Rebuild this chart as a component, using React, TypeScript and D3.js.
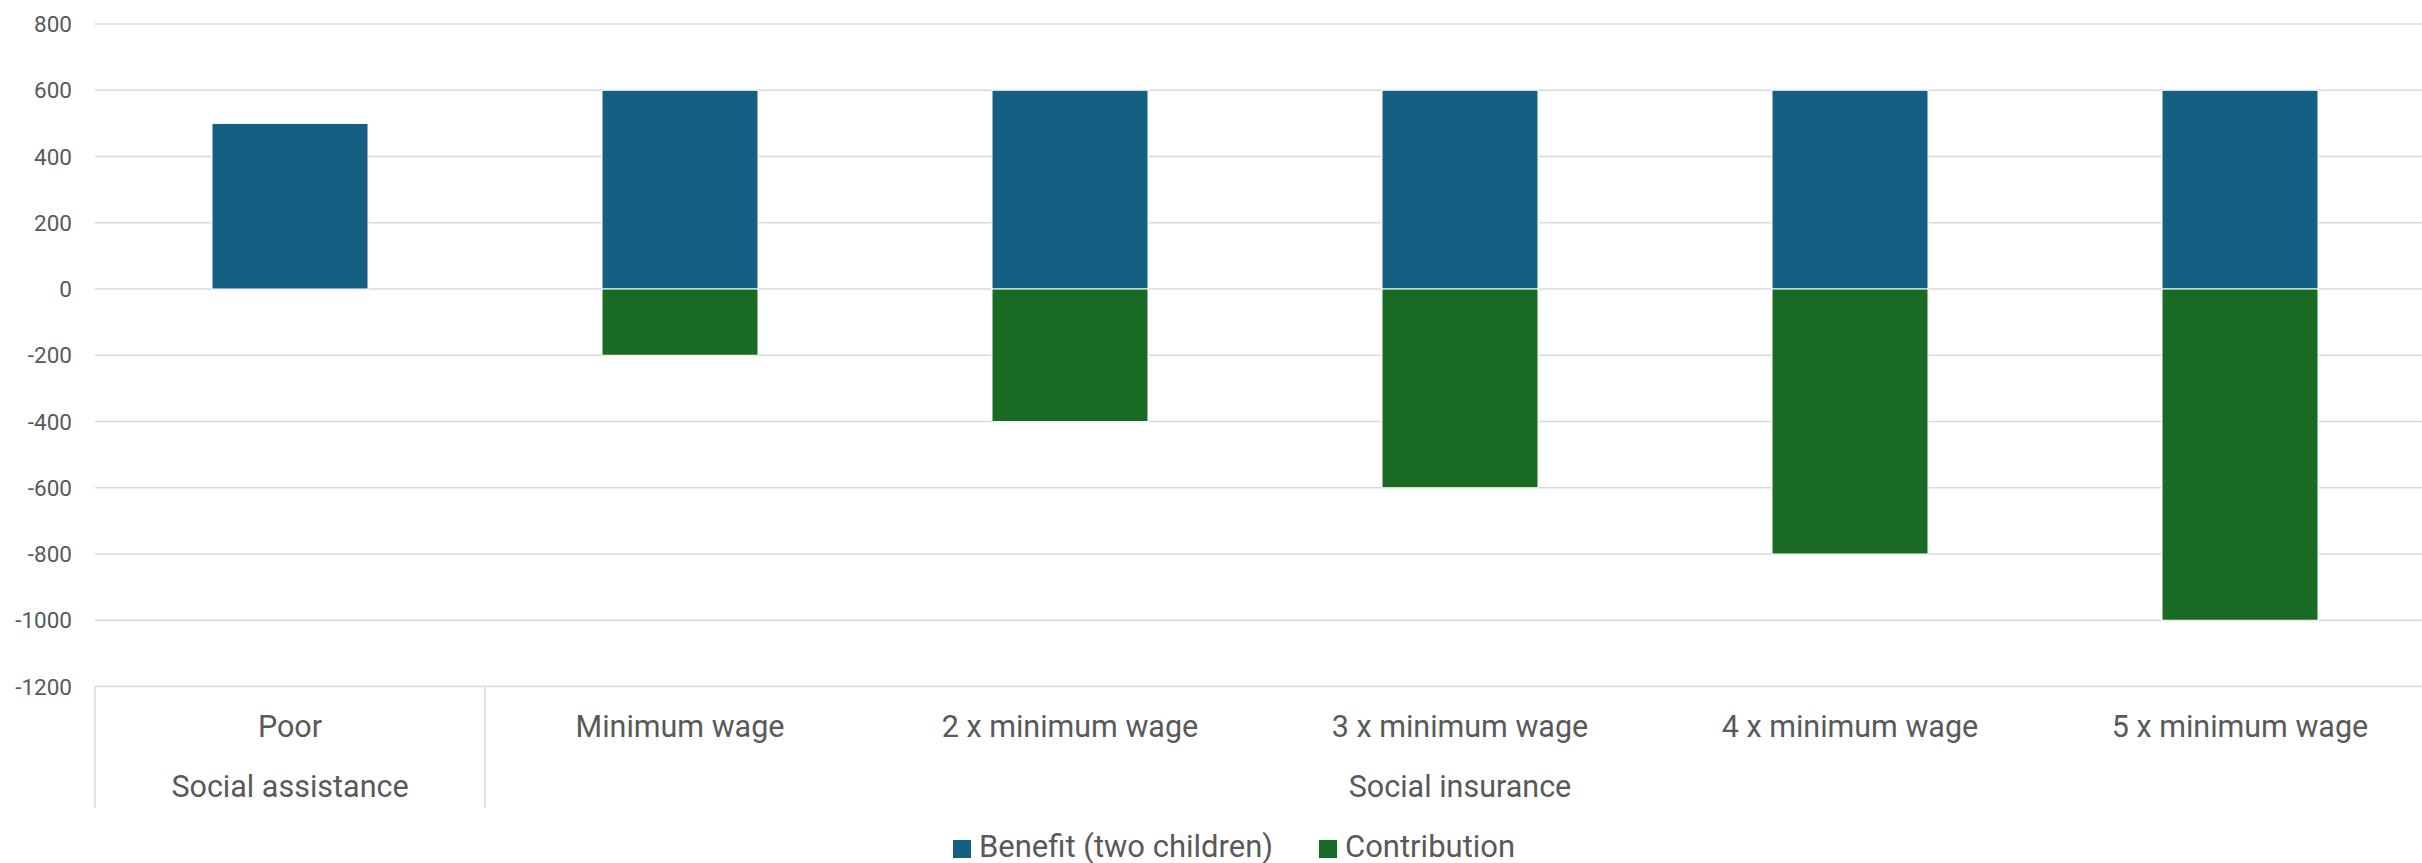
import React from "react";
import * as d3 from "d3";

const categories = [
  "Poor",
  "Minimum wage",
  "2 x minimum wage",
  "3 x minimum wage",
  "4 x minimum wage",
  "5 x minimum wage",
];
const groups = [
  { name: "Social assistance", start: 0, end: 0 },
  { name: "Social insurance", start: 1, end: 5 },
];
const benefit = [500, 600, 600, 600, 600, 600];
const contribution = [0, -200, -400, -600, -800, -1000];
const yTicks = [800, 600, 400, 200, 0, -200, -400, -600, -800, -1000, -1200];
const seriesNames = ["Benefit (two children)", "Contribution"];

const W = 2422;
const H = 863;
const BLUE = "#156082";
const GREEN = "#196B24";
const GRID = "#D9D9D9";
const TEXT = "#595959";
const FONT = "Roboto, 'Open Sans', sans-serif";

export default function App() {
  const plotLeft = 95;
  const step = 390;
  const plotRight = plotLeft + step * categories.length;
  const x = d3
    .scaleBand<string>()
    .domain(categories)
    .range([plotLeft, plotRight])
    .paddingInner(0.6)
    .paddingOuter(0.3);
  const y = d3.scaleLinear().domain([-1200, 800]).range([686.5, 24]);

  const catBoundary = (i: number) => plotLeft + step * i;
  const axisY = y(-1200);
  const row1Base = 737;
  const row2Base = 797;
  const axisBottom = 808;

  const legendItems = [
    { name: seriesNames[0], color: BLUE, x: 953 },
    { name: seriesNames[1], color: GREEN, x: 1319 },
  ];

  return (
    <svg
      width={W}
      height={H}
      style={{ position: "absolute", left: 0, top: 0, background: "#fff" }}
      fontFamily={FONT}
    >
      {yTicks.map((t) => (
        <line
          key={"g" + t}
          x1={plotLeft}
          x2={plotRight}
          y1={y(t)}
          y2={y(t)}
          stroke={GRID}
          strokeWidth={1.5}
        />
      ))}
      {yTicks.map((t) => (
        <text
          key={"t" + t}
          x={72}
          y={y(t)}
          textAnchor="end"
          dominantBaseline="central"
          fontSize={22.5}
          fill={TEXT}
        >
          {t}
        </text>
      ))}
      {categories.map((c, i) => {
        const bx = x(c)!;
        const bw = x.bandwidth();
        return (
          <g key={"b" + c}>
            {benefit[i] !== 0 && (
              <rect
                x={bx}
                y={y(Math.max(0, benefit[i]))}
                width={bw}
                height={Math.abs(y(benefit[i]) - y(0))}
                fill={BLUE}
                stroke="#fff"
                strokeWidth={1}
              />
            )}
            {contribution[i] !== 0 && (
              <rect
                x={bx}
                y={y(0)}
                width={bw}
                height={Math.abs(y(contribution[i]) - y(0))}
                fill={GREEN}
                stroke="#fff"
                strokeWidth={1}
              />
            )}
          </g>
        );
      })}
      {groups.map((g) => (
        <line
          key={"s" + g.name}
          x1={catBoundary(g.start)}
          x2={catBoundary(g.start)}
          y1={axisY}
          y2={axisBottom}
          stroke={GRID}
          strokeWidth={1.5}
        />
      ))}
      {categories.map((c) => (
        <text
          key={"c" + c}
          x={x(c)! + x.bandwidth() / 2}
          y={row1Base}
          textAnchor="middle"
          fontSize={30.5}
          fill={TEXT}
        >
          {c}
        </text>
      ))}
      {groups.map((g) => (
        <text
          key={"gl" + g.name}
          x={(catBoundary(g.start) + catBoundary(g.end + 1)) / 2}
          y={row2Base}
          textAnchor="middle"
          fontSize={30.5}
          fill={TEXT}
        >
          {g.name}
        </text>
      ))}
      {legendItems.map((it) => (
        <g key={"l" + it.name}>
          <rect x={it.x} y={840} width={18} height={18} fill={it.color} />
          <text x={it.x + 26} y={857} fontSize={31} fill={TEXT}>
            {it.name}
          </text>
        </g>
      ))}
    </svg>
  );
}
